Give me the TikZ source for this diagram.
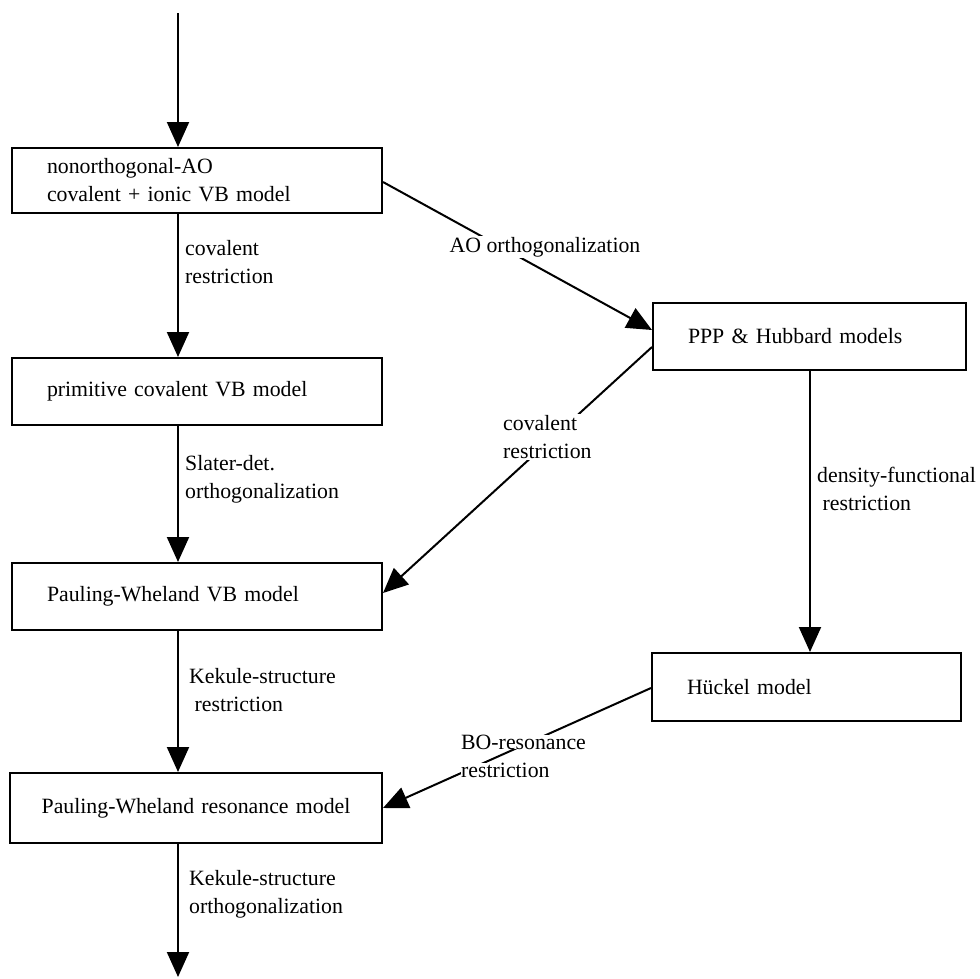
\documentclass[tikz,border=0pt]{standalone}
\usepackage{fontspec}
\setmainfont{Liberation Serif}
\usetikzlibrary{arrows.meta,calc}
\begin{document}
\begin{tikzpicture}[x=1pt,y=-1pt,
  every node/.style={font=\fontsize{21.8}{28}\selectfont},
  box/.style={draw, line width=2pt, minimum height=67pt, inner xsep=35pt, inner ysep=4pt, text width=#1, align=left},
  conn/.style={line width=2pt, -{Triangle[length=25pt,width=22pt]}},
  lbl/.style={align=left, inner sep=1pt, anchor=west},
  wlbl/.style={lbl, fill=white}]
\useasboundingbox (0,0) rectangle (980,978);
% boxes
\node[box=300pt, minimum height=65pt] (b1) at (197,180.5) {nonorthogonal-AO\\covalent + ionic VB model};
\node[box=300pt] (b2) at (197,391.5) {primitive covalent VB model};
\node[box=300pt] (b3) at (197,596.5) {Pauling-Wheland VB model};
\node[box=352pt, inner xsep=10pt, align=center, minimum height=70pt] (b4) at (196,808) {Pauling-Wheland resonance model};
\node[box=243pt] (ppp) at (809.5,336.5) {PPP \& Hubbard models};
\node[box=239pt, minimum height=68pt] (hu) at (806.5,687) {Hückel model};
% helper coordinates
\coordinate (xa) at (178,0);
\coordinate (top) at (178,13);
\coordinate (bot) at (178,977);
% vertical connectors
\draw[conn] (top) -- (b1.north -| xa);
\draw[conn] (b1.south -| xa) -- (b2.north -| xa);
\draw[conn] (b2.south -| xa) -- (b3.north -| xa);
\draw[conn] (b3.south -| xa) -- (b4.north -| xa);
\draw[conn] (b4.south -| xa) -- (bot);
\draw[conn] ($(ppp.south)+(0.5,0)$) -- ($(ppp.south |- hu.north)+(0.5,0)$);
% diagonal connectors
\draw[conn] ($(b1.east)+(0,1.5)$) -- ($(ppp.west)+(0,-6.5)$);
\draw[conn] ($(ppp.west)+(0,10.5)$) -- ($(b3.east)+(0,-3.5)$);
\draw[conn] ($(hu.west)+(0,1)$) -- (b4.east);
% labels
\node[lbl] (l1) at (184,262) {covalent\\restriction};
\node[lbl] (l2) at (184,479) {Slater-det.\\orthogonalization};
\node[lbl] (l3) at (188,690) {Kekule-structure\\\ restriction};
\node[lbl] (l4) at (188,894) {Kekule-structure\\orthogonalization};
\node[wlbl, anchor=center] (l5) at (545,247) {AO orthogonalization};
\node[wlbl] (l6) at (502,437) {covalent\\restriction};
\node[lbl] (l7) at (816,489) {density-functional\\\ restriction};
\node[wlbl, inner sep=0pt] (l8a) at (461,742) {BO-resonance};
\node[wlbl, inner sep=0pt] (l8b) at (461,770) {restriction};
\end{tikzpicture}
\end{document}
